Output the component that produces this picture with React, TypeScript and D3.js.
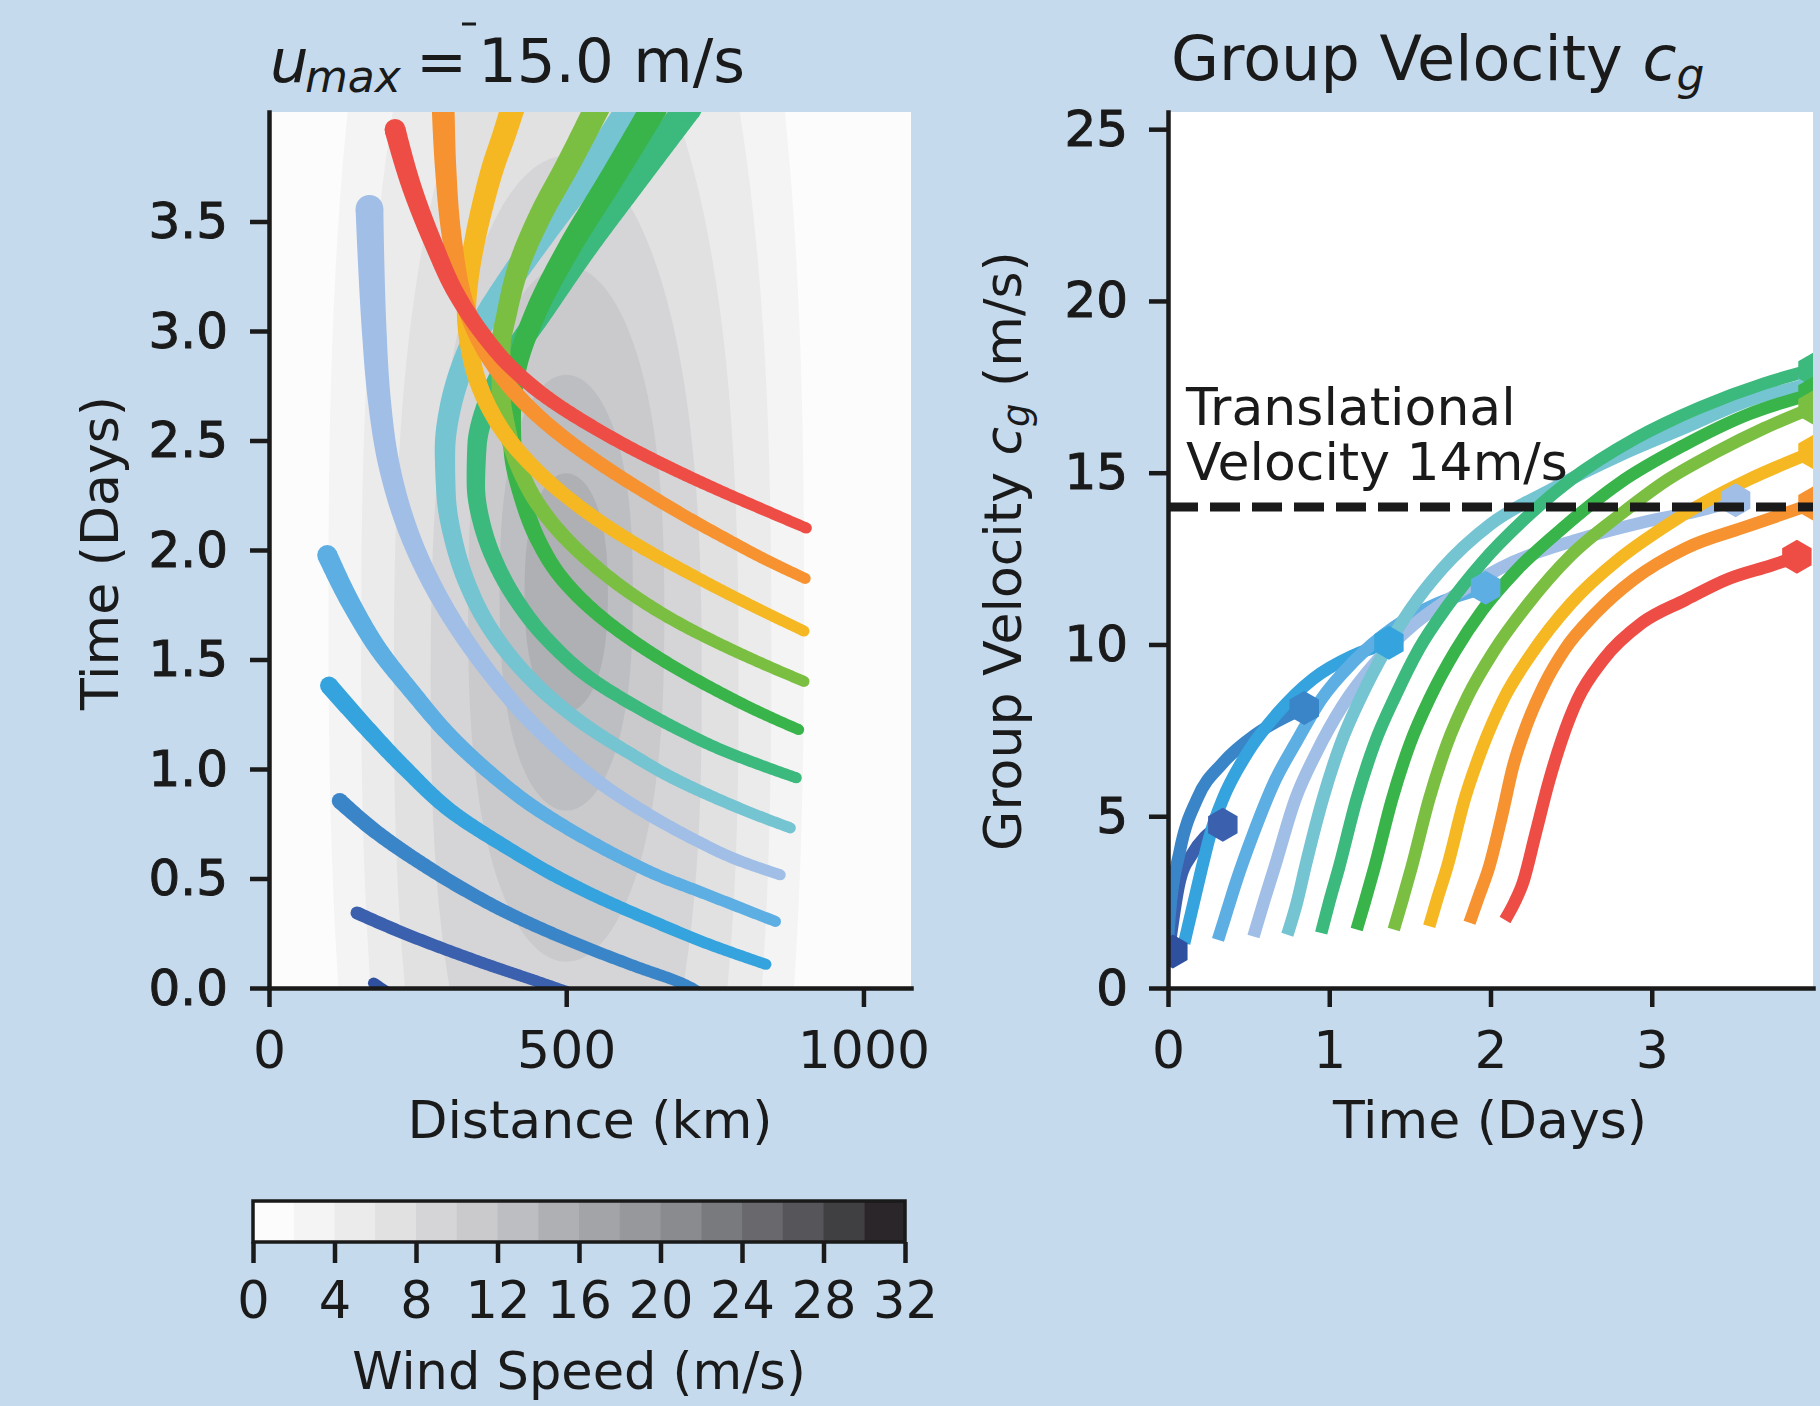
import React, { useEffect, useRef } from 'react';
import * as d3 from 'd3';

const FONT = 'DejaVu Sans';
const INK = '#1a1a1a';

const rayColors = [
  '#2f4f9f', '#3a60ae', '#3a84c8', '#35a3dd', '#5caee3', '#a0bee6', '#75c4d2',
  '#3cb97d', '#38b44a', '#7bbf42', '#f6b822', '#f6922f', '#ee4d45',
];

// ray paths in the storm frame: distance (km) against time (days)
const rayDistance = [
  [205, 176],
  [505, 457, 375, 293, 218, 148],
  [730, 701, 615, 543, 472, 400, 328, 256, 184, 119],
  [836, 740, 650, 565, 490, 395, 310, 230, 160, 101],
  [852, 802, 730, 658, 587, 515, 443, 371, 299, 242, 184, 140, 98],
  [860, 788, 716, 644, 573, 501, 436, 379, 328, 283, 247, 220, 201, 185, 177, 172, 169],
  [877, 815, 745, 675, 608, 543, 480, 420, 370, 333, 310, 298, 296, 305, 327, 362, 410, 470, 535, 610],
  [887, 831, 759, 687, 615, 543, 472, 414, 380, 358, 348, 350, 365, 400, 457, 529, 615, 705],
  [891, 825, 755, 685, 615, 543, 490, 452, 425, 410, 408, 418, 448, 505, 575, 648],
  [900, 831, 759, 687, 615, 543, 490, 450, 420, 400, 390, 390, 400, 422, 457, 503, 552],
  [900, 835, 765, 695, 625, 560, 500, 448, 405, 372, 350, 337, 332, 336, 346, 360, 377, 396, 410],
  [902, 840, 770, 700, 629, 557, 486, 420, 370, 330, 308, 297, 293],
  [904, 831, 759, 687, 616, 543, 471, 407, 357, 313, 278, 241, 212],
];
const rayTime = [
  [-0.03, 0.022],
  [-0.02, 0.025, 0.1, 0.18, 0.26, 0.343],
  [-0.03, 0.014, 0.1, 0.175, 0.255, 0.345, 0.45, 0.57, 0.705, 0.854],
  [0.108, 0.2, 0.3, 0.4, 0.5, 0.65, 0.8, 1.0, 1.2, 1.381],
  [0.304, 0.357, 0.434, 0.51, 0.602, 0.709, 0.831, 0.984, 1.167, 1.348, 1.547, 1.745, 1.977],
  [0.517, 0.585, 0.677, 0.784, 0.906, 1.059, 1.227, 1.41, 1.6, 1.8, 2.0, 2.2, 2.4, 2.7, 3.0, 3.3, 3.558],
  [0.731, 0.795, 0.875, 0.965, 1.07, 1.18, 1.31, 1.47, 1.65, 1.85, 2.05, 2.25, 2.45, 2.65, 2.85, 3.05, 3.25, 3.48, 3.72, 4.02],
  [0.96, 1.014, 1.09, 1.183, 1.289, 1.41, 1.58, 1.78, 1.95, 2.12, 2.3, 2.48, 2.65, 2.85, 3.08, 3.37, 3.69, 4.02],
  [1.18, 1.26, 1.355, 1.46, 1.58, 1.73, 1.88, 2.05, 2.25, 2.45, 2.62, 2.85, 3.08, 3.38, 3.69, 4.02],
  [1.4, 1.48, 1.57, 1.67, 1.79, 1.94, 2.08, 2.22, 2.38, 2.56, 2.75, 2.92, 3.08, 3.31, 3.53, 3.76, 4.02],
  [1.63, 1.715, 1.81, 1.91, 2.015, 2.125, 2.245, 2.37, 2.5, 2.64, 2.78, 2.93, 3.08, 3.24, 3.41, 3.58, 3.75, 3.9, 4.02],
  [1.87, 1.95, 2.05, 2.155, 2.27, 2.395, 2.535, 2.7, 2.88, 3.12, 3.42, 3.75, 4.02],
  [2.1, 2.185, 2.27, 2.36, 2.455, 2.565, 2.69, 2.835, 2.995, 3.18, 3.39, 3.65, 3.92],
];

// group velocity along each ray: time (days) and c_g (m/s)
const cgTime = [
  [0.0, 0.03],
  [0.0, 0.02, 0.07, 0.15, 0.23, 0.34],
  [0.0, 0.01, 0.074, 0.18, 0.34, 0.55, 0.845],
  [0.1, 0.16, 0.21, 0.27, 0.34, 0.5, 0.68, 0.9, 1.14, 1.37],
  [0.31, 0.37, 0.42, 0.53, 0.66, 0.8, 0.95, 1.15, 1.4, 1.65, 1.97],
  [0.53, 0.6, 0.66, 0.79, 0.92, 1.08, 1.3, 1.53, 1.8, 2.14, 2.54, 2.94, 3.34, 3.52],
  [0.74, 0.8, 0.85, 0.96, 1.07, 1.2, 1.35, 1.5, 1.7, 2.0, 2.37, 2.8, 3.2, 3.6, 4.0],
  [0.95, 1.0, 1.06, 1.17, 1.28, 1.41, 1.56, 1.73, 1.95, 2.2, 2.5, 2.9, 3.3, 3.7, 4.0],
  [1.17, 1.22, 1.28, 1.39, 1.5, 1.63, 1.78, 1.95, 2.17, 2.45, 2.8, 3.2, 3.6, 4.0],
  [1.4, 1.45, 1.51, 1.62, 1.73, 1.86, 2.02, 2.22, 2.5, 2.81, 3.1, 3.4, 3.7, 4.0],
  [1.62, 1.67, 1.73, 1.84, 1.95, 2.08, 2.25, 2.5, 2.8, 3.07, 3.35, 3.6, 4.0],
  [1.87, 1.93, 1.99, 2.07, 2.14, 2.22, 2.33, 2.46, 2.65, 2.89, 3.21, 3.6, 4.0],
  [2.09, 2.15, 2.2, 2.28, 2.36, 2.44, 2.54, 2.7, 2.94, 3.21, 3.47, 3.74, 3.9],
];
const cgSpeed = [
  [0.7, 1.06],
  [0.9, 1.6, 3.05, 3.9, 4.4, 4.75],
  [1.4, 2.1, 4.0, 5.5, 6.55, 7.4, 8.15],
  [1.3, 2.5, 3.5, 4.6, 5.5, 6.9, 8.0, 9.0, 9.66, 10.05],
  [1.4, 2.3, 3.05, 4.5, 6.0, 7.2, 8.4, 9.5, 10.5, 11.15, 11.65],
  [1.5, 2.6, 3.5, 5.5, 6.85, 8.2, 9.55, 10.6, 11.5, 12.4, 13.05, 13.55, 13.95, 14.2],
  [1.55, 2.5, 3.5, 5.5, 7.1, 8.5, 9.85, 11.0, 12.2, 13.5, 14.5, 15.5, 16.3, 17.1, 17.6],
  [1.6, 2.5, 3.5, 5.5, 7.1, 8.5, 9.9, 11.1, 12.4, 13.6, 14.8, 16.0, 16.9, 17.6, 18.0],
  [1.7, 2.5, 3.5, 5.5, 7.1, 8.5, 9.8, 11.0, 12.2, 13.4, 14.7, 15.8, 16.7, 17.3],
  [1.7, 2.5, 3.5, 5.5, 7.1, 8.5, 9.8, 11.1, 12.6, 13.8, 14.8, 15.6, 16.3, 16.9],
  [1.8, 2.6, 3.5, 5.5, 7.0, 8.4, 9.7, 11.2, 12.5, 13.4, 14.2, 14.8, 15.6],
  [1.9, 2.7, 3.5, 5.0, 6.45, 7.6, 8.8, 9.85, 10.9, 11.9, 12.8, 13.45, 14.1],
  [1.98, 2.5, 3.05, 4.5, 5.97, 7.2, 8.4, 9.56, 10.63, 11.3, 11.9, 12.3, 12.55],
];

const translationalSpeed = 14;

// filled wind speed contours around the storm (m/s, km, days)
const windLevels = [2, 4, 6, 8, 10, 12, 14];
const windHalfWidth = [400, 345, 290, 228, 165, 112, 70];
const windBottom = [-3.0, -2.5, -1.8, -1.0, 0.12, 0.81, 1.26];
const windTop = [6.5, 5.6, 4.6, 3.8, 3.3, 2.8, 2.35];
const stormCenterKm = 500;

const colorbarBounds = [0, 2, 4, 6, 8, 10, 12, 14, 16, 18, 20, 22, 24, 26, 28, 30, 32];
const greyShades = [
  '#fcfcfc', '#f4f4f4', '#ebebeb', '#e1e1e2', '#d5d5d7', '#cacacd', '#bdbec1', '#afb0b4',
  '#a2a4a7', '#96989c', '#898b8f', '#797a7e', '#69696d', '#56565a', '#404043', '#2a2629',
];
const colorbarTicks = [0, 4, 8, 12, 16, 20, 24, 28, 32];

const distTicks = [0, 500, 1000];
const dayTicks = [0, 0.5, 1, 1.5, 2, 2.5, 3, 3.5];
const cgTicks = [0, 5, 10, 15, 20, 25];
const timeTicks = [0, 1, 2, 3];

function styleAxis(g: any, size: number, heavy = false) {
  g.attr('font-family', null).attr('font-size', null);
  g.select('.domain').attr('stroke', INK).attr('stroke-width', 4.5).attr('stroke-linecap', 'square');
  g.selectAll('.tick line').attr('stroke', INK).attr('stroke-width', 4.5);
  const txt = g.selectAll('.tick text').attr('fill', INK).attr('font-family', FONT).attr('font-size', size);
  if (heavy) txt.attr('stroke', INK).attr('stroke-width', 1);
}

function hexagon(cx: number, cy: number, r: number) {
  const pts = d3.range(6).map((k) => {
    const a = Math.PI / 2 + (k * Math.PI) / 3;
    return [cx + r * Math.cos(a), cy - r * Math.sin(a)];
  });
  return 'M' + pts.map((p) => p.join(',')).join('L') + 'Z';
}

export default function App() {
  const ref = useRef<SVGSVGElement>(null);

  useEffect(() => {
    document.body.style.margin = '0';
    const svg = d3.select(ref.current);
    svg.selectAll('*').remove();

    svg.append('rect').attr('width', 1820).attr('height', 1406).attr('fill', '#c6daee');

    const xDist = d3.scaleLinear().domain([0, 1080]).range([269, 911]);
    const yDays = d3.scaleLinear().domain([0, 4.0]).range([988, 112]);
    const xTime = d3.scaleLinear().domain([0, 4.0]).range([1168, 1813]);
    const yCg = d3.scaleLinear().domain([0, 25.5]).range([988, 112]);

    const defs = svg.append('defs');
    defs.append('clipPath').attr('id', 'clipL').append('rect')
      .attr('x', 269).attr('y', 112).attr('width', 642).attr('height', 876);
    defs.append('clipPath').attr('id', 'clipR').append('rect')
      .attr('x', 1168).attr('y', 112).attr('width', 645).attr('height', 876);

    // ---- left panel: wind field and rays
    const left = svg.append('g').attr('clip-path', 'url(#clipL)');
    left.append('rect').attr('x', 269).attr('y', 112).attr('width', 642).attr('height', 876)
      .attr('fill', greyShades[0]);

    windLevels.forEach((lev, i) => {
      const tc = (windBottom[i] + windTop[i]) / 2;
      const b = (windTop[i] - windBottom[i]) / 2;
      const outline = d3.range(0, 360, 2).map((deg) => {
        const th = (deg * Math.PI) / 180;
        const s = Math.sin(th);
        return [
          xDist(stormCenterKm + windHalfWidth[i] * Math.cos(th)),
          yDays(tc + b * Math.sign(s) * Math.pow(Math.abs(s), 0.8)),
        ] as [number, number];
      });
      left.append('path')
        .attr('d', d3.line().curve(d3.curveLinearClosed)(outline))
        .attr('fill', greyShades[lev / 2]);
    });

    // rays drawn as ribbons that widen with travel time
    const smooth = d3.line().curve(d3.curveMonotoneY);
    rayDistance.forEach((kms, i) => {
      const pts = kms.map((k, j) => [xDist(k), yDays(rayTime[i][j])] as [number, number]).reverse();
      const tmp = left.append('path').attr('d', smooth(pts)).attr('fill', 'none');
      const node = tmp.node() as SVGPathElement;
      const len = node.getTotalLength();
      const n = Math.max(2, Math.ceil(len / 2));
      const samples = d3.range(n + 1).map((k) => node.getPointAtLength((len * k) / n));
      tmp.remove();
      const t0 = rayTime[i][0];
      const widths = samples.map((p) => 11 + 5.5 * Math.max(0, yDays.invert(p.y) - t0));
      const sideA: number[][] = [];
      const sideB: number[][] = [];
      samples.forEach((p, k) => {
        const a = samples[Math.max(0, k - 1)];
        const c = samples[Math.min(n, k + 1)];
        const dx = c.x - a.x;
        const dy = c.y - a.y;
        const L = Math.hypot(dx, dy) || 1;
        const h = widths[k] / 2;
        sideA.push([p.x - (dy / L) * h, p.y + (dx / L) * h]);
        sideB.push([p.x + (dy / L) * h, p.y - (dx / L) * h]);
      });
      const ring = sideA.concat(sideB.reverse());
      left.append('path')
        .attr('d', 'M' + ring.map((p) => p.join(',')).join('L') + 'Z')
        .attr('fill', rayColors[i]);
      [0, n].forEach((k) => {
        left.append('circle').attr('cx', samples[k].x).attr('cy', samples[k].y)
          .attr('r', widths[k] / 2).attr('fill', rayColors[i]);
      });
    });

    const axL = svg.append('g').attr('transform', 'translate(269,0)')
      .call(d3.axisLeft(yDays).tickValues(dayTicks).tickFormat(d3.format('.1f'))
        .tickSize(19).tickPadding(22).tickSizeOuter(0));
    styleAxis(axL, 50, true);
    const axB = svg.append('g').attr('transform', 'translate(0,988)')
      .call(d3.axisBottom(xDist).tickValues(distTicks).tickFormat(d3.format('d'))
        .tickSize(19).tickPadding(24).tickSizeOuter(0));
    styleAxis(axB, 52);

    svg.append('text').attr('transform', 'translate(118,553) rotate(-90)')
      .attr('text-anchor', 'middle').attr('font-family', FONT).attr('font-size', 52)
      .attr('fill', INK).text('Time (Days)');
    svg.append('text').attr('x', 590).attr('y', 1138).attr('text-anchor', 'middle')
      .attr('font-family', FONT).attr('font-size', 52).attr('fill', INK).text('Distance (km)');

    const t1 = svg.append('text').attr('y', 82).attr('font-family', FONT).attr('font-size', 61).attr('fill', INK);
    t1.append('tspan').attr('x', 270).attr('font-style', 'italic').text('u');
    t1.append('tspan').attr('x', 305).attr('dy', 10).attr('font-size', 44).attr('font-style', 'italic').text('max');
    t1.append('tspan').attr('x', 416).attr('dy', -10).text('=');
    t1.append('tspan').attr('x', 478).text('15.0 m/s');
    svg.append('line').attr('x1', 462).attr('x2', 476).attr('y1', 24).attr('y2', 24)
      .attr('stroke', INK).attr('stroke-width', 3);

    // ---- right panel: group velocity
    svg.append('rect').attr('x', 1168).attr('y', 112).attr('width', 645).attr('height', 876).attr('fill', '#ffffff');
    const right = svg.append('g').attr('clip-path', 'url(#clipR)');
    const cgLine = d3.line().curve(d3.curveMonotoneX);
    const cgPts = cgTime.map((ts, i) => ts.map((t, j) => [xTime(t), yCg(cgSpeed[i][j])] as [number, number]));
    cgPts.forEach((pts, i) => {
      right.append('path').attr('d', cgLine(pts)).attr('fill', 'none')
        .attr('stroke', rayColors[i]).attr('stroke-width', 12.5).attr('stroke-linejoin', 'round');
    });
    // end of each ray marked with a hexagon
    cgPts.forEach((pts, i) => {
      const last = pts[pts.length - 1];
      right.append('path').attr('d', hexagon(last[0], last[1], 17)).attr('fill', rayColors[i]);
    });
    right.append('line').attr('x1', xTime(0)).attr('x2', xTime(4))
      .attr('y1', yCg(translationalSpeed)).attr('y2', yCg(translationalSpeed))
      .attr('stroke', INK).attr('stroke-width', 9).attr('stroke-dasharray', '30 12');

    const note = svg.append('text').attr('font-family', FONT).attr('font-size', 52).attr('fill', INK);
    note.append('tspan').attr('x', 1186).attr('y', 425).text('Translational');
    note.append('tspan').attr('x', 1186).attr('y', 480).text(`Velocity ${translationalSpeed}m/s`);

    const axR = svg.append('g').attr('transform', 'translate(1168,0)')
      .call(d3.axisLeft(yCg).tickValues(cgTicks).tickSize(19).tickPadding(21).tickSizeOuter(0));
    styleAxis(axR, 50, true);
    const axRB = svg.append('g').attr('transform', 'translate(0,988)')
      .call(d3.axisBottom(xTime).tickValues(timeTicks).tickFormat(d3.format('d'))
        .tickSize(19).tickPadding(24).tickSizeOuter(0));
    styleAxis(axRB, 52);

    svg.append('text').attr('x', 1490).attr('y', 1138).attr('text-anchor', 'middle')
      .attr('font-family', FONT).attr('font-size', 52).attr('fill', INK).text('Time (Days)');
    const yl = svg.append('text').attr('transform', 'translate(1021,551) rotate(-90)')
      .attr('text-anchor', 'middle').attr('font-family', FONT).attr('font-size', 52).attr('fill', INK);
    yl.append('tspan').text('Group Velocity ');
    yl.append('tspan').attr('font-style', 'italic').text('c');
    yl.append('tspan').attr('font-style', 'italic').attr('font-size', 37).attr('dy', 8).text('g');
    yl.append('tspan').attr('dy', -8).text(' (m/s)');

    const t2 = svg.append('text').attr('y', 80).attr('font-family', FONT).attr('font-size', 62).attr('fill', INK);
    t2.append('tspan').attr('x', 1171).text('Group Velocity ');
    t2.append('tspan').attr('font-style', 'italic').text('c');
    t2.append('tspan').attr('dy', 10).attr('font-size', 44).attr('font-style', 'italic').text('g');

    // ---- colorbar
    const xBar = d3.scaleLinear().domain([0, 32]).range([253, 905]);
    colorbarBounds.slice(0, -1).forEach((v, i) => {
      svg.append('rect').attr('x', xBar(v)).attr('y', 1201)
        .attr('width', xBar(colorbarBounds[i + 1]) - xBar(v) + 0.5).attr('height', 41)
        .attr('fill', greyShades[i]);
    });
    svg.append('rect').attr('x', 253).attr('y', 1201).attr('width', 652).attr('height', 41)
      .attr('fill', 'none').attr('stroke', INK).attr('stroke-width', 3.5);
    const axC = svg.append('g').attr('transform', 'translate(0,1242)')
      .call(d3.axisBottom(xBar).tickValues(colorbarTicks).tickSize(21).tickPadding(19).tickSizeOuter(0));
    styleAxis(axC, 51);
    axC.select('.domain').remove();
    svg.append('text').attr('x', 579).attr('y', 1389).attr('text-anchor', 'middle')
      .attr('font-family', FONT).attr('font-size', 51).attr('fill', INK).text('Wind Speed (m/s)');
  }, []);

  return <svg ref={ref} width={1820} height={1406} style={{ display: 'block' }} />;
}
